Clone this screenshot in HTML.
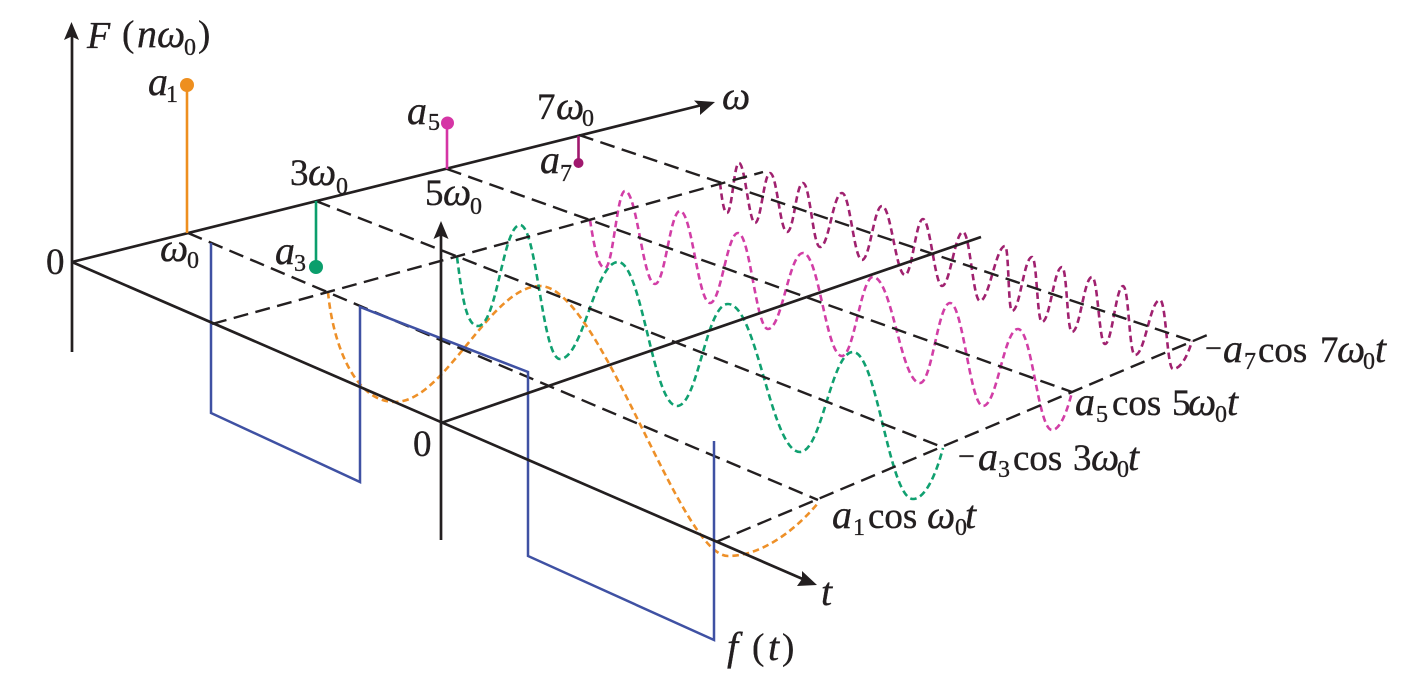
<!DOCTYPE html>
<html><head><meta charset="utf-8"><style>
html,body{margin:0;padding:0;background:#fff}
svg{display:block}
text{font-family:"Liberation Serif","Noto Serif CJK SC",serif;fill:#231f20;font-size:37px;stroke:#231f20;stroke-width:.35}
.i{font-style:italic;font-size:40px}
.s{font-size:24px}
.ax{stroke:#231f20;stroke-width:2.7;fill:none}
.d{stroke:#231f20;stroke-width:2.4;fill:none;stroke-dasharray:15 7.500}
.w{stroke-width:2.600;fill:none;stroke-dasharray:6.500 4}
</style></head><body>
<svg width="1401" height="681" viewBox="0 0 1401 681" xmlns="http://www.w3.org/2000/svg">
<rect width="1401" height="681" fill="#fff"/>
<!-- waves -->
<path class="w" stroke="#ee9028" d="M328 292 C333 345 355 402 395 402 C445 402 490 286 540 286 C600 286 680 556 728 556 C765 556 800 525 818 503"/>
<path class="w" stroke="#10a070" d="M457 257 C462 295 466 326 478 326 C497 326 503 225 520 225 C537 225 542 359 560 359 C583 359 595 262 618 262 C642 262 653 406 677 406 C698 406 706 304 728 304 C757 304 771 452 800 452 C822 452 831 352 853 352 C877 352 889 499 913 499 C925 499 936 475 943 448"/>
<path class="w" stroke="#d23ea6" d="M590 220 C594 245 598 268 605 268 C613 268 617 191 625 191 C637 191 643 284 655 284 C665 284 670 211 680 211 C692 211 698 303 710 303 C721 303 727 233 738 233 C750 233 756 329 768 329 C782 329 789 253 803 253 C819 253 826 356 842 356 C854 356 861 277 873 277 C892 277 901 383 920 383 C932 383 938 303 950 303 C963 303 970 406 983 406 C997 406 1004 329 1018 329 C1032 329 1038 430 1052 430 C1060 430 1067 412 1072 392"/>
<path class="w" stroke="#a0216f" d="M720 183 C722 200 724 213 727 213 C732 213 734 163 739 163 C745 163 749 223 755 223 C761 223 764 173 770 173 C777 173 780 232 787 232 C794 232 796 183 803 183 C810 183 813 247 820 247 C829 247 833 193 842 193 C850 193 854 260 862 260 C870 260 874 206 882 206 C891 206 896 275 905 275 C912 275 916 219 923 219 C930 219 935 286 942 286 C950 286 955 232 963 232 C970 232 973 301 980 301 C989 301 996 246 1005 246 C1009 246 1008 311 1012 311 C1020 311 1024 257 1032 257 C1037 257 1037 322 1042 322 C1050 322 1054 267 1062 267 C1067 267 1067 332 1072 332 C1080 332 1084 277 1092 277 C1098 277 1099 344 1105 344 C1112 344 1116 286 1123 286 C1129 286 1129 355 1135 355 C1145 355 1150 300 1160 300 C1166 300 1167 369 1173 369 C1180 369 1187 358 1192 341"/>
<!-- dashed -->
<path class="d" d="M188 233 L818 500"/>
<path class="d" d="M316 201 L942 447"/>
<path class="d" d="M447 169 L1072 392"/>
<path class="d" d="M579 135 L1192 341"/>
<path class="d" d="M212 324 L763 172"/>
<path class="d" d="M716 542 L1212 333"/>
<!-- blue -->
<path d="M211 243 V413 L360 482 V307 L528 372 V556 L714 640 V441" fill="none" stroke="#3f51a3" stroke-width="2.500"/>
<!-- axes -->
<path class="ax" d="M72 352 V36"/>
<path class="ax" d="M72 262 L702 105"/>
<path class="ax" d="M72 262 L805 580"/>
<path class="ax" d="M441 540 V235"/>
<path class="ax" d="M441 423 L981 237"/>
<path fill="#231f20" d="M71.500 22 L79 40 L71.500 36.500 L64 40 Z"/>
<path fill="#231f20" d="M441 221 L448.500 239 L441 235.500 L433.500 239 Z"/>
<path fill="#231f20" d="M715 102 L700 115 L700 106.500 L694 100.500 Z"/>
<path fill="#231f20" d="M817 585 L797 586 L802 579 L802 571 Z"/>
<!-- stems -->
<path d="M187 85 V233" stroke="#ee8f1f" stroke-width="2.600" fill="none"/><circle cx="187" cy="85" r="7" fill="#ee8f1f"/>
<path d="M316 201 V267" stroke="#0b9e6c" stroke-width="2.600" fill="none"/><circle cx="316" cy="267" r="7" fill="#0b9e6c"/>
<path d="M447 123 V169" stroke="#d535a5" stroke-width="2.600" fill="none"/><circle cx="447.500" cy="123" r="6.500" fill="#d535a5"/>
<path d="M578.500 136 V163" stroke="#a0186e" stroke-width="2.600" fill="none"/><circle cx="578.500" cy="163" r="5" fill="#a0186e"/>
<!-- labels -->
<text class="i" x="87" y="48" style="font-size:38px">F</text><text x="122" y="46">(</text><text class="i" x="137" y="47">n</text><text class="i" x="157" y="47">ω</text><text class="s" x="184" y="55">0</text><text x="198" y="46">)</text>
<text class="i" x="148" y="95">a</text><text class="s" x="166" y="102">1</text>
<text class="i" x="407" y="124">a</text><text class="s" x="428" y="130">5</text>
<text x="290" y="185">3</text><text class="i" x="308" y="185">ω</text><text class="s" x="336" y="194">0</text>
<text class="i" x="160" y="261">ω</text><text class="s" x="187" y="268">0</text>
<text class="i" x="275" y="264">a</text><text class="s" x="294" y="271">3</text>
<text x="425" y="205">5</text><text class="i" x="443" y="205">ω</text><text class="s" x="470" y="214">0</text>
<text x="537" y="119">7</text><text class="i" x="556" y="119">ω</text><text class="s" x="582" y="126">0</text>
<text class="i" x="540" y="173">a</text><text class="s" x="560" y="181">7</text>
<text class="i" x="722" y="109">ω</text>
<text x="46" y="274">0</text>
<text x="413" y="456">0</text>
<text class="i" x="821" y="605">t</text>
<text class="i" x="727" y="660">f</text><text x="752" y="659">(</text><text class="i" x="768" y="660">t</text><text x="782" y="659">)</text>
<text class="i" x="832" y="528">a</text><text class="s" x="853" y="535">1</text><text x="868" y="528">cos</text><text class="i" x="927" y="528">ω</text><text class="s" x="955" y="535">0</text><text class="i" x="965" y="528">t</text>
<text x="958" y="466" style="font-size:30px">−</text><text class="i" x="978" y="470">a</text><text class="s" x="998" y="477">3</text><text x="1013" y="470">cos</text><text x="1073" y="470">3</text><text class="i" x="1091" y="470">ω</text><text class="s" x="1117" y="477">0</text><text class="i" x="1128" y="470">t</text>
<text class="i" x="1075" y="415">a</text><text class="s" x="1096" y="422">5</text><text x="1112" y="415">cos</text><text x="1172" y="415">5</text><text class="i" x="1188" y="415">ω</text><text class="s" x="1215" y="422">0</text><text class="i" x="1227" y="415">t</text>
<text x="1205" y="358" style="font-size:30px">−</text><text class="i" x="1223" y="362">a</text><text class="s" x="1244" y="369">7</text><text x="1258" y="362">cos</text><text x="1320" y="362">7</text><text class="i" x="1337" y="362">ω</text><text class="s" x="1363" y="369">0</text><text class="i" x="1375" y="362">t</text>
</svg>
</body></html>
